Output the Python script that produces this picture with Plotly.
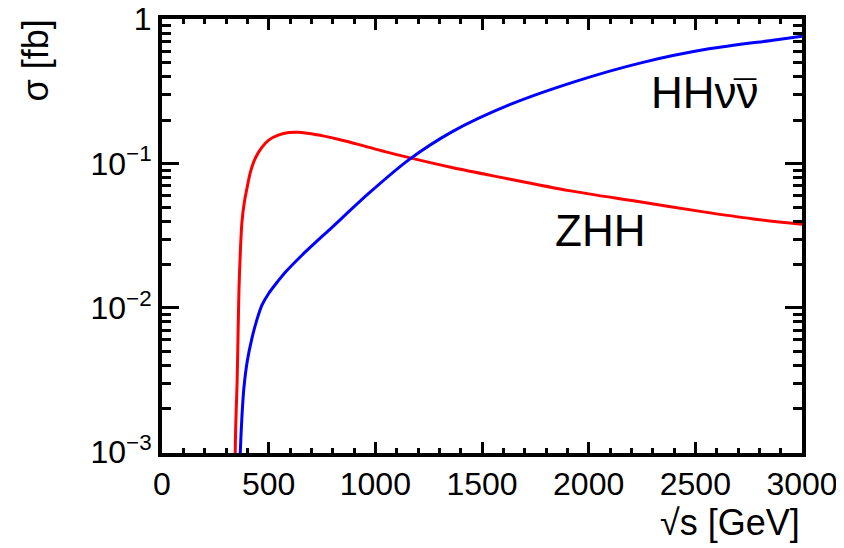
import plotly.graph_objects as go

# sqrt(s) in GeV and cross sections in fb
zhh_x = [341, 344, 348, 352, 356, 361, 368, 375, 386, 398, 415, 436, 469, 502, 548, 595,
         640, 700, 760, 830, 920, 1045, 1158, 1359, 1594, 1908, 2217, 2531, 2766, 3000]
zhh_y = [0.0005, 0.0012, 0.0020, 0.0030, 0.0060, 0.0137, 0.026, 0.0398, 0.054, 0.0672, 0.088,
         0.108, 0.130, 0.146, 0.158, 0.164, 0.165, 0.161, 0.155, 0.147, 0.136, 0.121, 0.110,
         0.094, 0.080, 0.065, 0.055, 0.0465, 0.0415, 0.038]

hhvv_x = [362, 366, 375, 384, 400, 422, 445, 469, 500, 540, 577, 656, 797, 970, 1158, 1359,
          1627, 1936, 2250, 2564, 2873, 3000]
hhvv_y = [0.0005, 0.00092, 0.0018, 0.0028, 0.0043, 0.0062, 0.0083, 0.0105, 0.0126, 0.0151,
          0.0176, 0.0232, 0.0362, 0.0624, 0.1066, 0.166, 0.255, 0.370, 0.501, 0.624, 0.719, 0.764]

ytick_vals = [0.001, 0.01, 0.1, 1]
ytick_text = ["10<sup>\u22123</sup>", "10<sup>\u22122</sup>", "10<sup>\u22121</sup>", "1"]
xtick_vals = [0, 500, 1000, 1500, 2000, 2500, 3000]
minor_y = [m * 10.0 ** e for e in (-3, -2, -1) for m in range(2, 10)]

FONT = "Liberation Sans, Arial, Helvetica, sans-serif"

fig = go.Figure()
fig.add_trace(go.Scatter(x=zhh_x, y=zhh_y, mode="lines", name="ZHH",
                         line=dict(color="#ff0000", width=3, shape="spline", smoothing=0.8)))
fig.add_trace(go.Scatter(x=hhvv_x, y=hhvv_y, mode="lines", name="HHvv",
                         line=dict(color="#0000ff", width=3, shape="spline", smoothing=0.8)))

# the page body adds an 8 px offset, so the margins are shifted to compensate
fig.update_layout(
    width=844, height=548,
    margin=dict(l=154, r=50, t=11, b=103, autoexpand=False),
    paper_bgcolor="white", plot_bgcolor="white",
    showlegend=False,
    font=dict(family=FONT, size=32, color="black"),
    xaxis=dict(range=[0, 3000], tickvals=xtick_vals, ticktext=[str(v) for v in xtick_vals],
               ticks="inside", ticklen=11, tickwidth=3, tickcolor="black",
               showline=True, linewidth=4, linecolor="black", mirror="allticks",
               showgrid=False, zeroline=False, automargin=False, ticklabeloverflow="allow",
               minor=dict(dtick=100, ticks="inside", ticklen=5, tickwidth=3,
                          tickcolor="black", showgrid=False),
               tickfont=dict(size=32, family=FONT)),
    yaxis=dict(type="log", range=[-3.005, 0.002], tickvals=ytick_vals, ticktext=ytick_text,
               ticks="inside", ticklen=17, tickwidth=3, tickcolor="black",
               showline=True, linewidth=4, linecolor="black", mirror="allticks",
               showgrid=False, zeroline=False, automargin=False, ticklabeloverflow="allow",
               minor=dict(tickvals=minor_y, ticks="inside", ticklen=9, tickwidth=3,
                          tickcolor="black", showgrid=False),
               tickfont=dict(size=32, family=FONT)),
)

fig.add_annotation(text="HH\u03bd\u03bd", x=2545, y=-0.51, xref="x", yref="y",
                   showarrow=False, font=dict(size=44, family=FONT, color="black"),
                   xanchor="center", yanchor="middle")
fig.add_annotation(text="\u00af", x=2545, y=-0.51, xref="x", yref="y", xshift=40, yshift=-2,
                   showarrow=False, font=dict(size=40, family=FONT, color="black"),
                   xanchor="center", yanchor="middle")
fig.add_annotation(text="ZHH", x=2053, y=-1.462, xref="x", yref="y",
                   showarrow=False, font=dict(size=44, family=FONT, color="black"),
                   xanchor="center", yanchor="middle")
fig.add_annotation(text="\u221as [GeV]", x=1.0, y=-0.161, xref="paper", yref="paper",
                   showarrow=False, font=dict(size=36, family=FONT, color="black"),
                   xanchor="right", yanchor="middle")
fig.add_annotation(text="\u03c3 [fb]", x=-0.198, y=0.905, xref="paper", yref="paper",
                   showarrow=False, textangle=-90, font=dict(size=36, family=FONT, color="black"),
                   xanchor="center", yanchor="middle")

fig.write_html("out.html")
